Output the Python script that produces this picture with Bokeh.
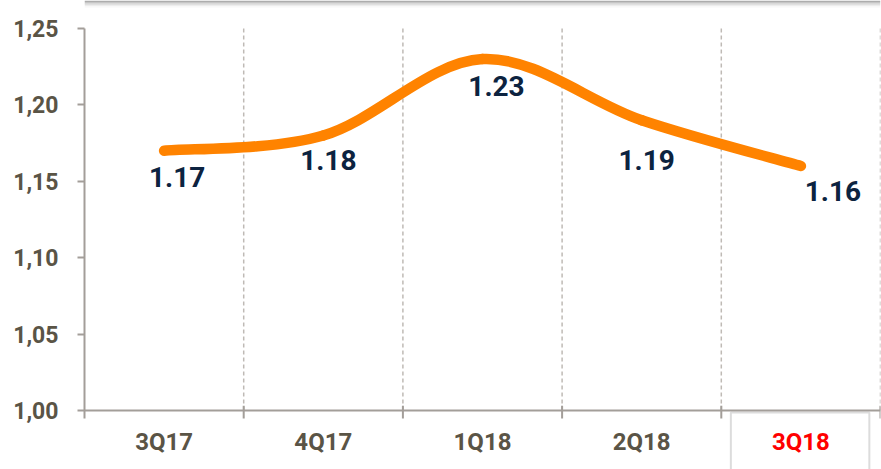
from bokeh.plotting import figure
from bokeh.models import Range1d, FixedTicker, ColumnDataSource, LinearAxis
from bokeh.core.properties import value
from bokeh.embed import file_html
from bokeh.resources import INLINE

# ---- data ----
categories = ["3Q17", "4Q17", "1Q18", "2Q18", "3Q18"]
ratio = [1.17, 1.18, 1.23, 1.19, 1.16]
y_ticks = [1.00, 1.05, 1.10, 1.15, 1.20, 1.25]
y_tick_labels = ["1,00", "1,05", "1,10", "1,15", "1,20", "1,25"]
highlight = "3Q18"

# label offsets (pixels) relative to each point
label_dx = [13, 5, 14, 5, 32]
label_dy = [26, 25, 27, 40, 25]

# ---- layout constants (pixels) ----
W, H = 881, 469
LEFT, RIGHT = 84, 1
PLOT_TOP, AXIS_Y = 28, 410          # pixel rows of y=1.25 and y=1.00
Y0, Y1 = y_ticks[0], y_ticks[-1]
PPU = (AXIS_Y - PLOT_TOP) / (Y1 - Y0)   # pixels per unit
y_start = Y0 - (H - AXIS_Y) / PPU
y_end = Y1 + PLOT_TOP / PPU
TICK = 8 / PPU

FONT = "Roboto"
AXIS_COL = "#a39e99"
TICK_TXT = "#5a5446"
LINE_COL = "#ff8300"
LBL_COL = "#0c2340"

n = len(categories)
xc = [i + 0.5 for i in range(n)]

p = figure(width=W, height=H, output_backend="svg", toolbar_location=None,
           x_range=Range1d(0, n), y_range=Range1d(y_start, y_end),
           x_axis_location=None,
           min_border_left=LEFT, min_border_right=RIGHT, min_border_top=0, min_border_bottom=0)
p.outline_line_color = None
p.background_fill_color = "white"
p.border_fill_color = "white"
p.grid.grid_line_color = None

# top shadow strip (decoration)
shadow_alpha = [0.45, 0.32, 0.2, 0.1, 0.04]
ns = len(shadow_alpha)
sh_top = [y_end - k * 1.4 / PPU for k in range(ns)]
sh_bot = [y_end - (k + 1) * 1.4 / PPU for k in range(ns)]
p.quad(left=[0] * ns, right=[n] * ns, top=sh_top, bottom=sh_bot,
       fill_color="#4a4a4a", fill_alpha=shadow_alpha, line_color=None)

# y axis
ya = p.yaxis[0]
ya.bounds = (Y0 - TICK, Y1)
ya.ticker = FixedTicker(ticks=y_ticks, minor_ticks=[])
ya.major_label_overrides = {t: l for t, l in zip(y_ticks, y_tick_labels)}
ya.axis_line_color = AXIS_COL
ya.axis_line_width = 2
ya.major_tick_line_color = AXIS_COL
ya.major_tick_line_width = 2
ya.major_tick_out = 7
ya.major_tick_in = 0
ya.minor_tick_line_color = None
ya.major_label_standoff = 19
ya.major_label_text_font = FONT
ya.major_label_text_font_style = "bold"
ya.major_label_text_font_size = "23px"
ya.major_label_text_color = TICK_TXT

# x axis line at y = 1.00
xa = LinearAxis(fixed_location=Y0, ticker=FixedTicker(ticks=[], minor_ticks=[]),
                axis_line_color=AXIS_COL, axis_line_width=2,
                major_tick_line_color=None, minor_tick_line_color=None,
                major_tick_out=0, major_tick_in=0, minor_tick_out=0,
                major_label_standoff=0, major_label_text_font_size="0px")
p.add_layout(xa, "below")

# category dividers (dashed) and short ticks below the axis
bounds_x = list(range(1, n + 1))
p.segment(x0=bounds_x, y0=[Y0] * n, x1=bounds_x, y1=[Y1] * n,
          line_color="#bfbab5", line_width=1.5, line_dash="4 3")
p.segment(x0=bounds_x, y0=[Y0 - TICK] * n, x1=bounds_x, y1=[Y0 + 0.6 * TICK] * n,
          line_color=AXIS_COL, line_width=2)

# highlight box around the last category label
hi = categories.index(highlight)
p.quad(left=[xc[hi] - 0.44], right=[xc[hi] + 0.43], top=[Y0 - 2 / PPU], bottom=[y_start - 0.01],
       fill_color=None, line_color="#dcdcdc", line_width=2)

# category labels
cat_colors = ["#ff0000" if c == highlight else TICK_TXT for c in categories]
src_c = ColumnDataSource(dict(x=xc, y=[Y0] * n, t=categories, c=cat_colors))
p.text(x="x", y="y", text="t", text_color="c", y_offset=31, source=src_c,
       text_align="center", text_baseline="middle",
       text_font=value(FONT), text_font_style="bold", text_font_size="24px")

# smooth line: cubic bezier segments (Catmull-Rom style control points)
pts = list(zip(xc, ratio))
x0s, y0s, x1s, y1s, cx0, cy0, cx1, cy1 = [], [], [], [], [], [], [], []
for i in range(n - 1):
    p0 = pts[i - 1] if i > 0 else pts[i]
    p1 = pts[i]
    p2 = pts[i + 1]
    p3 = pts[i + 2] if i + 2 < n else pts[i + 1]
    x0s.append(p1[0]); y0s.append(p1[1])
    x1s.append(p2[0]); y1s.append(p2[1])
    cx0.append(p1[0] + (p2[0] - p0[0]) / 6); cy0.append(p1[1] + (p2[1] - p0[1]) / 6)
    cx1.append(p2[0] - (p3[0] - p1[0]) / 6); cy1.append(p2[1] - (p3[1] - p1[1]) / 6)
src_b = ColumnDataSource(dict(x0=x0s, y0=y0s, x1=x1s, y1=y1s, cx0=cx0, cy0=cy0, cx1=cx1, cy1=cy1))
p.bezier(x0="x0", y0="y0", x1="x1", y1="y1", cx0="cx0", cy0="cy0", cx1="cx1", cy1="cy1",
         source=src_b, line_color=LINE_COL, line_width=10.5, line_cap="round")

# data labels
src_l = ColumnDataSource(dict(x=xc, y=ratio, t=[f"{v:.2f}" for v in ratio],
                              dx=label_dx, dy=label_dy))
p.text(x="x", y="y", text="t", x_offset="dx", y_offset="dy", source=src_l,
       text_align="center", text_baseline="middle", text_color=LBL_COL,
       text_font=value(FONT), text_font_style="bold", text_font_size="28px")

open("out.html", "w").write(file_html(p, INLINE))
